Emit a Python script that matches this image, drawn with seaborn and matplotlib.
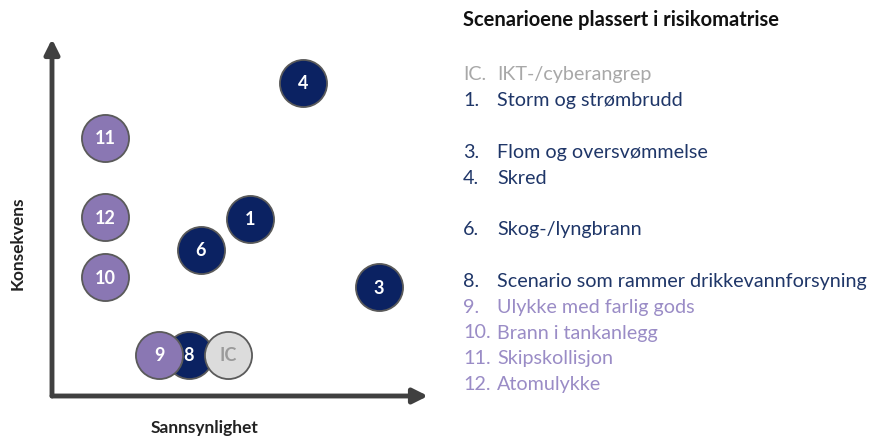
import pandas as pd
import matplotlib
matplotlib.use("Agg")
import matplotlib.pyplot as plt
import seaborn as sns

# -------------------------------
# Data: scenarios placed in the risk matrix
# -------------------------------
ids = ["8", "4", "11", "12", "10", "1", "6", "3", "9", "IC"]
probability = [3.64, 6.68, 1.41, 1.41, 1.41, 5.27, 3.96, 8.70, 2.85, 4.68]
consequence = [1.15, 8.77, 7.23, 5.01, 3.33, 4.96, 4.09, 3.05, 1.15, 1.15]
group = ["nat", "nat", "men", "men", "men", "nat", "nat", "nat", "men", "ikt"]

legend_nums = ["IC.", "1.", "3.", "4.", "6.", "8.", "9.", "10.", "11.", "12."]
legend_text = ["IKT-/cyberangrep", "Storm og strømbrudd", "Flom og oversvømmelse",
               "Skred", "Skog-/lyngbrann", "Scenario som rammer drikkevannforsyning",
               "Ulykke med farlig gods", "Brann i tankanlegg", "Skipskollisjon",
               "Atomulykke"]
legend_rows = [0, 1, 3, 4, 6, 8, 9, 10, 11, 12]
legend_group = ["ikt", "nat", "nat", "nat", "nat", "nat", "men", "men", "men", "men"]

fill = {"nat": "#0b2262", "men": "#8a77b3", "ikt": "#dcdcdc"}
label_col = {"nat": "white", "men": "white", "ikt": "#9a9a9a"}
legend_col = {"nat": "#1f3668", "men": "#9a8cc6", "ikt": "#a8a8a8"}

df = pd.DataFrame({"id": ids, "x": probability, "y": consequence, "g": group})

sns.set_style("white")
plt.rcParams["font.family"] = ["Lato", "DejaVu Sans"]

W, H = 872, 439
fig = plt.figure(figsize=(W / 100, H / 100), dpi=100)
ax = fig.add_axes([52 / W, (H - 397) / H, 376 / W, 357 / H])

# -------------------------------
# Bubbles
# -------------------------------
for i, row in df.iterrows():
    sns.scatterplot(x=[row["x"]], y=[row["y"]], ax=ax, s=1150,
                    color=fill[row["g"]], edgecolor="#5a5a5a", linewidth=1.3,
                    zorder=3 + i, clip_on=False, legend=False)
    ax.text(row["x"], row["y"], row["id"], ha="center", va="center",
            fontsize=13, fontweight="bold", color=label_col[row["g"]],
            zorder=3 + i)

ax.set_xlim(0, 10)
ax.set_ylim(0, 10)
ax.set_xticks([])
ax.set_yticks([])
ax.set_xlabel("")
ax.set_ylabel("")
for sp in ax.spines.values():
    sp.set_visible(False)

# axis arrows
arrow = dict(arrowstyle="-|>", lw=3.5, color="#404040", mutation_scale=22,
             shrinkA=0, shrinkB=0)
ax.annotate("", xy=(1.0, 0), xytext=(0, 0), xycoords="axes fraction",
            arrowprops=arrow, annotation_clip=False)
ax.annotate("", xy=(0, 1.0), xytext=(0, 0), xycoords="axes fraction",
            arrowprops=arrow, annotation_clip=False)

fig.text(205 / W, 1 - 428 / H, "Sannsynlighet", ha="center", va="center",
         fontsize=12.5, fontweight="bold", color="#222222")
fig.text(18 / W, 1 - 243 / H, "Konsekvens", ha="center", va="center",
         rotation=90, fontsize=12.5, fontweight="bold", color="#222222")

# -------------------------------
# Legend text
# -------------------------------
fig.text(463 / W, 1 - 20 / H, "Scenarioene plassert i risikomatrise",
         ha="left", va="center", fontsize=14.5, fontweight="bold", color="#111111")
for num, txt, r, g in zip(legend_nums, legend_text, legend_rows, legend_group):
    yy = 1 - (75 + 25.8 * r) / H
    fig.text(463 / W, yy, num, ha="left", va="center", fontsize=14.2,
             color=legend_col[g])
    fig.text(497 / W, yy, txt, ha="left", va="center", fontsize=14.2,
             color=legend_col[g])

plt.savefig("out.png", dpi=100)
